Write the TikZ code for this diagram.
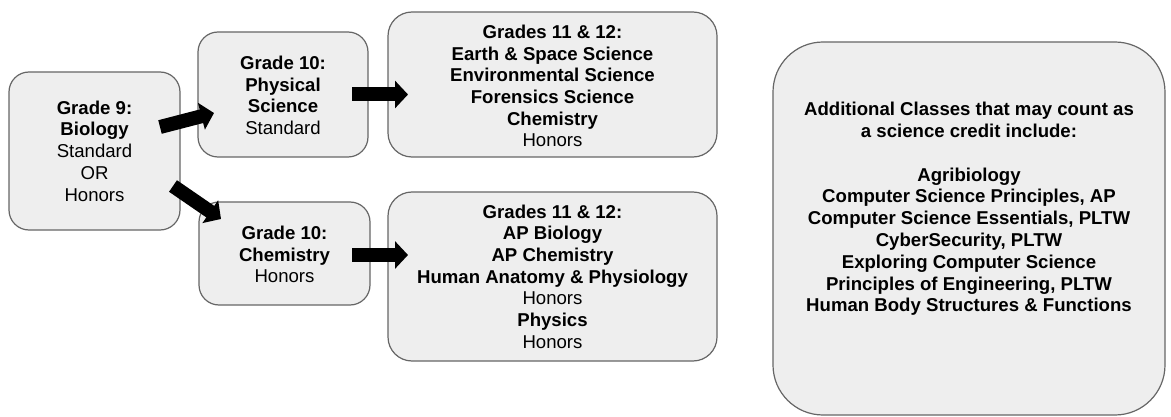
\documentclass[tikz,border=0pt]{standalone}
\usepackage{fontspec}
\setmainfont{Liberation Sans}
\usetikzlibrary{arrows.meta,calc}
\definecolor{boxfill}{HTML}{EEEEEE}
\definecolor{boxline}{HTML}{666666}
\begin{document}
\begin{tikzpicture}[x=1pt,y=-1pt,
  box/.style={draw=boxline,fill=boxfill,line width=1.2pt,rounded corners=20pt,inner sep=0pt},
  txt/.style={align=center,font=\fontsize{18.6}{21.7}\selectfont,inner sep=0pt},
  blockarrow/.style={draw=black,line width=14pt,-{Triangle[width=27pt,length=13pt]}}]
\useasboundingbox (0,0) rectangle (1171,417);
% boxes
\node[box,minimum width=171pt,minimum height=158pt] (g9) at (94.5,151) {};
\node[box,minimum width=170pt,minimum height=125pt] (phys) at (283,94.5) {};
\node[box,minimum width=329pt,minimum height=145pt,rounded corners=24pt] (upper) at (552.5,84.5) {};
\node[box,minimum width=171pt,minimum height=103pt] (chem) at (284.5,253.5) {};
\node[box,minimum width=329pt,minimum height=169pt,rounded corners=24pt] (lower) at (552.5,276.5) {};
\node[box,minimum width=392pt,minimum height=373pt,rounded corners=50pt] (extra) at (969,228.5) {};
% texts
\node[txt] (g9t) at (g9.center) {\textbf{Grade 9:}\\\textbf{Biology}\\Standard\\OR\\Honors};
\node[txt] (physt) at ($(phys.center)+(0,1)$) {\textbf{Grade 10:}\\\textbf{Physical}\\\textbf{Science}\\Standard};
\node[txt] (uppert) at ($(upper.center)+(0,1.5)$) {\textbf{Grades 11 \& 12:}\\\textbf{Earth \& Space Science}\\\textbf{Environmental Science}\\\textbf{Forensics Science}\\\textbf{Chemistry}\\Honors};
\node[txt] (chemt) at ($(chem.center)+(0,1)$) {\textbf{Grade 10:}\\\textbf{Chemistry}\\Honors};
\node[txt] (lowert) at (lower.center) {\textbf{Grades 11 \& 12:}\\\textbf{AP Biology}\\\textbf{AP Chemistry}\\\textbf{Human Anatomy \& Physiology}\\Honors\\\textbf{Physics}\\Honors};
\node[txt,font=\bfseries\fontsize{18.6}{21.8}\selectfont] (extrat) at (969,209) {Additional Classes that may count as\\a science credit include:\\[21.8pt]Agribiology\\Computer Science Principles, AP\\Computer Science Essentials, PLTW\\CyberSecurity, PLTW\\Exploring Computer Science\\Principles of Engineering, PLTW\\Human Body Structures \& Functions};
% arrow end points
\coordinate (a1s) at (160,127);
\coordinate (a1e) at (214,113);
\coordinate (a2s) at (173,186);
\coordinate (a2e) at (221,219);
\coordinate (a3s) at (352,94.5);
\coordinate (a3e) at (408,94.5);
\coordinate (a4s) at (352,255);
\coordinate (a4e) at (408,255);
\draw[blockarrow] (a1s) -- (a1e);
\draw[blockarrow] (a2s) -- (a2e);
\draw[blockarrow] (a3s) -- (a3e);
\draw[blockarrow] (a4s) -- (a4e);
\end{tikzpicture}
\end{document}
